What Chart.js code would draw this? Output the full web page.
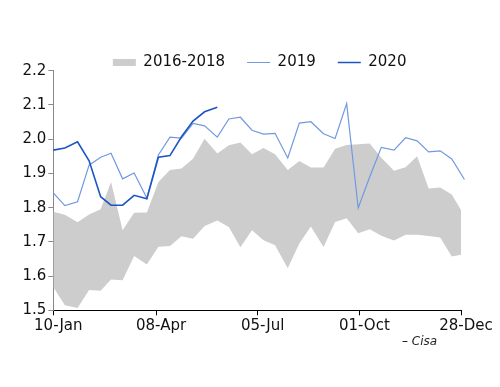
<!DOCTYPE html>
<html>
<head>
<meta charset="utf-8">
<script src="https://cdn.jsdelivr.net/npm/chart.js@4"></script>
<style>
  body { margin: 0; background: #fff; }
  #wrap { position: relative; width: 500px; height: 387px; }
  #source { position: absolute; left: 402px; top: 334px; font: italic 12px 'DejaVu Sans', sans-serif; color: #222; }
</style>
</head>
<body>
<div id="wrap">
  <canvas id="chart" width="500" height="387"></canvas>
  <div id="source">– Cisa</div>
</div>
<script>
const months = ['Jan', 'Feb', 'Mar', 'Apr', 'May', 'Jun', 'Jul', 'Aug', 'Sep', 'Oct', 'Nov', 'Dec'];

// dekad dates (10th, 20th, end of month)
const dates = [
  '10-Jan', '20-Jan', '31-Jan', '10-Feb', '20-Feb', '29-Feb',
  '10-Mar', '20-Mar', '31-Mar', '10-Apr', '20-Apr', '30-Apr',
  '10-May', '20-May', '31-May', '10-Jun', '20-Jun', '30-Jun',
  '10-Jul', '20-Jul', '31-Jul', '10-Aug', '20-Aug', '31-Aug',
  '10-Sep', '20-Sep', '30-Sep', '10-Oct', '20-Oct', '31-Oct',
  '10-Nov', '20-Nov', '30-Nov', '10-Dec', '20-Dec', '31-Dec'
];
const tickLabels = ['10-Jan', '08-Apr', '05-Jul', '01-Oct', '28-Dec'];

// 2016-2018 range (max / min)
const band16_18Max = [
  1.788, 1.779, 1.757, 1.780, 1.795, 1.875, 1.734, 1.785, 1.786, 1.875, 1.910, 1.914,
  1.943, 2.001, 1.958, 1.982, 1.990, 1.956, 1.974, 1.956, 1.910, 1.936, 1.917, 1.917,
  1.972, 1.983, 1.985, 1.987, 1.946, 1.908, 1.918, 1.950, 1.856, 1.859, 1.838, 1.776
];
const band16_18Min = [
  1.568, 1.515, 1.507, 1.559, 1.557, 1.590, 1.588, 1.659, 1.634, 1.686, 1.688, 1.716,
  1.709, 1.746, 1.762, 1.743, 1.684, 1.734, 1.705, 1.690, 1.623, 1.695, 1.745, 1.685,
  1.758, 1.769, 1.725, 1.737, 1.718, 1.704, 1.721, 1.721, 1.717, 1.713, 1.657, 1.664
];
const y2019 = [
  1.843, 1.806, 1.817, 1.924, 1.947, 1.959, 1.884, 1.901, 1.828, 1.954, 2.006, 2.003,
  2.046, 2.039, 2.006, 2.059, 2.064, 2.026, 2.015, 2.017, 1.945, 2.047, 2.051, 2.016,
  2.002, 2.104, 1.799, 1.890, 1.976, 1.968, 2.004, 1.995, 1.963, 1.966, 1.942, 1.882
];
const y2020 = [
  1.968, 1.974, 1.992, 1.937, 1.832, 1.807, 1.807, 1.836, 1.826, 1.947, 1.952, 2.007,
  2.053, 2.080, 2.093
];

function dayOfYear(label) {
  const parts = label.split('-');
  return (Date.UTC(2020, months.indexOf(parts[1]), +parts[0]) - Date.UTC(2020, 0, 0)) / 864e5;
}

function pts(values) {
  return values.map((v, i) => ({ x: dayOfYear(dates[i]), y: v }));
}

// move the legend so it sits centred over the plot like the original
const legendShift = {
  id: 'legendShift',
  afterLayout(chart) {
    chart.legend.left += 18;
    chart.legend.right += 18;
  }
};

Chart.defaults.font.family = "'DejaVu Sans', sans-serif";

new Chart(document.getElementById('chart'), {
  type: 'line',
  data: {
    datasets: [
      { label: '2016-2018', data: pts(band16_18Max), fill: '+1', backgroundColor: '#cdcdcd',
        borderColor: 'rgba(0,0,0,0)', borderWidth: 0, pointRadius: 0, pointStyle: 'rect', order: 3, clip: 6 },
      { label: 'min', data: pts(band16_18Min), fill: false, backgroundColor: '#cdcdcd',
        borderColor: 'rgba(0,0,0,0)', borderWidth: 0, pointRadius: 0, order: 4, clip: 6 },
      { label: '2019', data: pts(y2019), fill: false, borderColor: '#7199e0', borderWidth: 1.2,
        pointRadius: 0, pointStyle: 'line', tension: 0, order: 2, clip: 6 },
      { label: '2020', data: pts(y2020), fill: false, borderColor: '#1c55c4', borderWidth: 1.6,
        pointRadius: 0, pointStyle: 'line', tension: 0, order: 1, clip: 6 }
    ]
  },
  options: {
    responsive: false,
    animation: false,
    devicePixelRatio: 1,
    layout: { padding: { top: 33, left: 22.3, right: 39, bottom: 51.7 } },
    plugins: {
      tooltip: { enabled: false },
      legend: {
        position: 'top',
        maxHeight: 37.7,
        labels: {
          usePointStyle: true,
          pointStyleWidth: 23,
          boxHeight: 7,
          padding: 22,
          color: '#111',
          font: { size: 15 },
          filter: item => item.text !== 'min',
          sort: (a, b) => a.datasetIndex - b.datasetIndex
        }
      }
    },
    scales: {
      x: {
        type: 'linear',
        min: dayOfYear(tickLabels[0]),
        max: dayOfYear(tickLabels[tickLabels.length - 1]),
        afterBuildTicks: axis => { axis.ticks = tickLabels.map(t => ({ value: dayOfYear(t) })); },
        afterFit: axis => { axis.height = 25; },
        grid: { drawOnChartArea: false, tickLength: 5, color: '#000' },
        border: { color: '#000', width: 1 },
        ticks: {
          padding: 2, color: '#111', font: { size: 15 }, maxRotation: 0, autoSkip: false, labelOffset: 5,
          callback: (v, i) => tickLabels[i]
        }
      },
      y: {
        min: 1.5,
        max: 2.2,
        afterFit: axis => { axis.width = 31; },
        grid: { drawOnChartArea: false, tickLength: 5, color: '#888' },
        border: { color: '#888', width: 1 },
        ticks: { stepSize: 0.1, padding: 2, color: '#111', font: { size: 15 }, callback: v => v.toFixed(1) }
      }
    }
  },
  plugins: [legendShift]
});
</script>
</body>
</html>
